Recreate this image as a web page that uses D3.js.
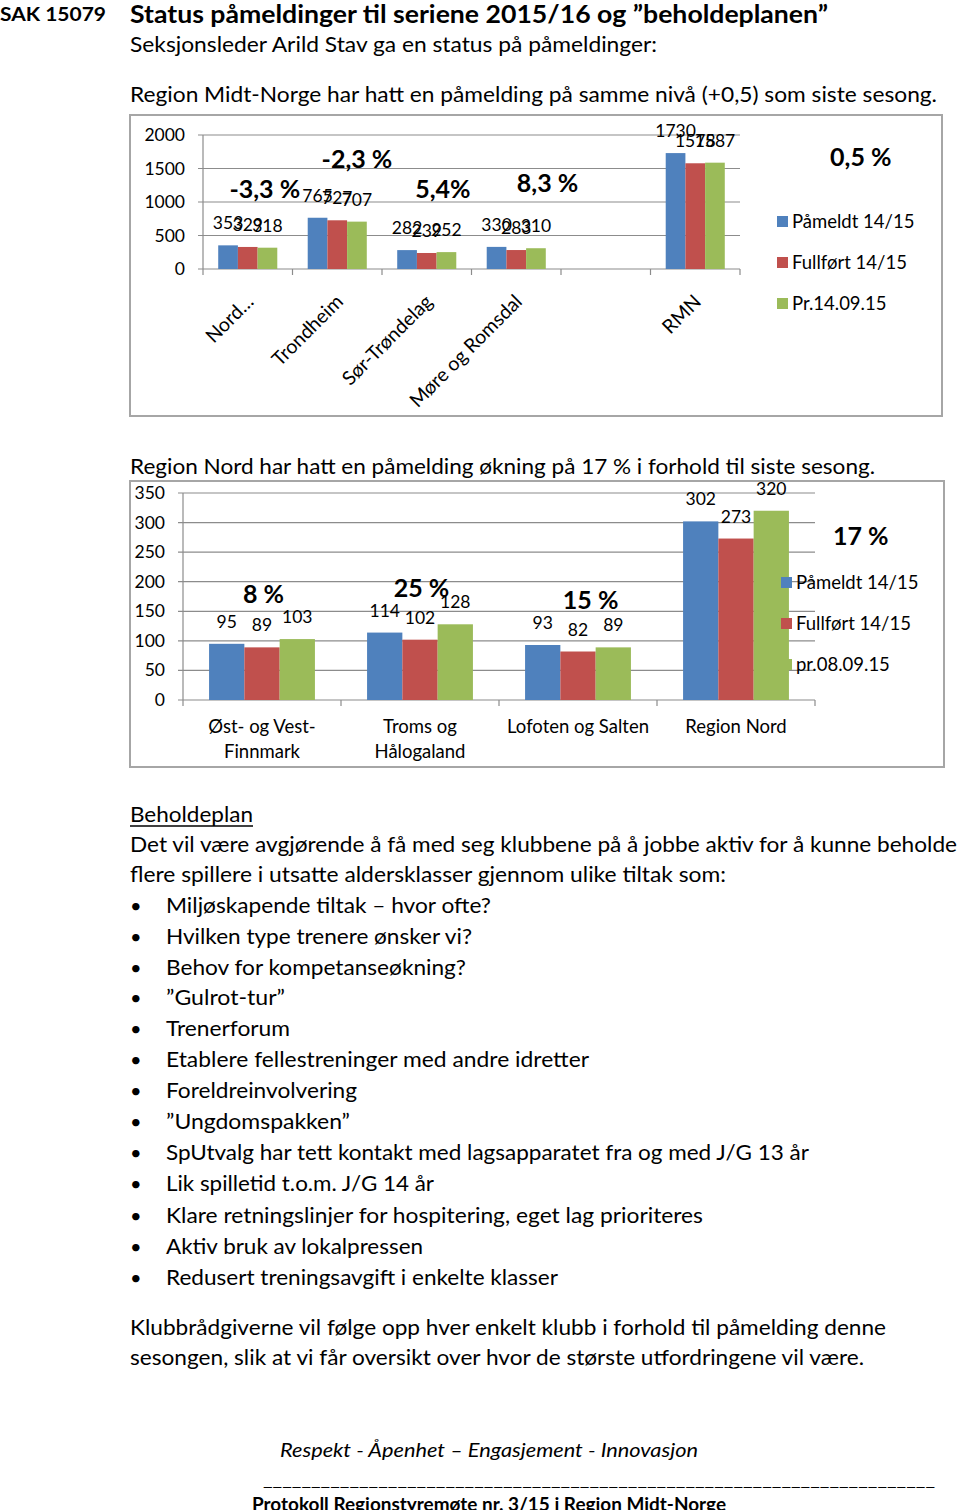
<!DOCTYPE html>
<html><head><meta charset="utf-8">
<script src="https://cdn.jsdelivr.net/npm/d3@7"></script>
<style>body{margin:0;background:#fff} svg{display:block} text{font-family:Lato,'Open Sans',sans-serif;fill:#000}</style>
</head><body>
<svg id="s" width="960" height="1510"></svg>
<script>
// ---------- data ----------
const cats1 = ["Nord…","Trondheim","Sør-Trøndelag","Møre og Romsdal","","RMN"];
const paameldt1 = [353,765,282,330,null,1730];
const fullfort1 = [329,727,239,283,null,1578];
const pr1 = [318,707,252,310,null,1587];
const series1 = ["Påmeldt 14/15","Fullført 14/15","Pr.14.09.15"];
const ticks1 = [0,500,1000,1500,2000];
const pctLabels1 = ["-3,3 %","-2,3 %","5,4%","8,3 %","0,5 %"];

const cats2 = [["Øst- og Vest-","Finnmark"],["Troms og","Hålogaland"],["Lofoten og Salten"],["Region Nord"]];
const paameldt2 = [95,114,93,302];
const fullfort2 = [89,102,82,273];
const pr2 = [103,128,89,320];
const series2 = ["Påmeldt 14/15","Fullført 14/15","pr.08.09.15"];
const ticks2 = [0,50,100,150,200,250,300,350];
const pctLabels2 = ["8 %","25 %","15 %","17 %"];

const colors = ["#4F81BD","#C0504D","#9BBB59"];

const svg = d3.select("#s");
function txt(s, x, y, opts={}) {
  const t = svg.append("text").attr("x", x).attr("y", y).text(s)
    .attr("font-size", opts.size || 21)
    .attr("font-weight", opts.bold ? 700 : 400)
    .attr("font-style", opts.italic ? "italic" : "normal");
  if (opts.right) {
    t.attr("textLength", opts.right - x).attr("lengthAdjust", "spacingAndGlyphs");
  }
  return t;
}

// ---------- header & body text ----------
txt("SAK 15079", 0, 21, {size:19, bold:true, right:106});
txt("Status påmeldinger til seriene 2015/16 og ”beholdeplanen”", 130, 23, {size:24, bold:true, right:828});
txt("Seksjonsleder Arild Stav ga en status på påmeldinger:", 130, 52, {right:657});
txt("Region Midt-Norge har hatt en påmelding på samme nivå (+0,5) som siste sesong.", 130, 102, {right:937});
txt("Region Nord har hatt en påmelding økning på 17 % i forhold til siste sesong.", 130, 474, {right:875});
txt("Beholdeplan", 130, 822, {right:253});
svg.append("line").attr("x1",130).attr("x2",253).attr("y1",826).attr("y2",826).attr("stroke","#000").attr("stroke-width",1.3);
txt("Det vil være avgjørende å få med seg klubbene på å jobbe aktiv for å kunne beholde", 130, 852, {right:957});
txt("flere spillere i utsatte aldersklasser gjennom ulike tiltak som:", 130, 882, {right:726});

const bullets = ["Miljøskapende tiltak – hvor ofte?","Hvilken type trenere ønsker vi?","Behov for kompetanseøkning?","”Gulrot-tur”","Trenerforum","Etablere fellestreninger med andre idretter","Foreldreinvolvering","”Ungdomspakken”","SpUtvalg har tett kontakt med lagsapparatet fra og med J/G 13 år","Lik spilletid t.o.m. J/G 14 år","Klare retningslinjer for hospitering, eget lag prioriteres","Aktiv bruk av lokalpressen","Redusert treningsavgift i enkelte klasser"];
const bulletRights = [491,472,466,285,290,589,357,350,809,434,703,423,558];
const bulletY = [913,944,975,1005,1036,1067,1098,1129,1160,1191,1223,1254,1285];
bullets.forEach((b,i) => {
  txt("•", 130, bulletY[i], {size:20});
  txt(b, 166, bulletY[i], {right:bulletRights[i]});
});
txt("Klubbrådgiverne vil følge opp hver enkelt klubb i forhold til påmelding denne", 130, 1335, {right:886});
txt("sesongen, slik at vi får oversikt over hvor de største utfordringene vil være.", 130, 1365, {right:864});
txt("Respekt - Åpenhet – Engasjement - Innovasjon", 280, 1457, {italic:true, size:20, right:698});
txt("_".repeat(70), 263, 1486, {size:18, right:935});
txt("Protokoll Regionstyremøte nr. 3/15 i Region Midt-Norge", 252, 1511, {bold:true, size:19, right:726});

// ---------- generic grouped bar chart ----------
function chart(cfg) {
  const g = svg.append("g");
  g.append("rect").attr("x", cfg.box[0]).attr("y", cfg.box[1]).attr("width", cfg.box[2]).attr("height", cfg.box[3])
    .attr("fill", "none").attr("stroke", "#a6a6a6").attr("stroke-width", 2);
  const n = cfg.cats.length;
  const y = d3.scaleLinear().domain([0, cfg.ticks[cfg.ticks.length-1]]).range([cfg.y0, cfg.y1]);
  const x = d3.scaleBand().domain(d3.range(n)).range([cfg.x0, cfg.x1]).paddingInner(cfg.pad).paddingOuter(cfg.pad/2);
  const xs = d3.scaleBand().domain([0,1,2]).range([0, x.bandwidth()]);
  const xi = d3.scaleLinear().domain([0, n]).range([cfg.x0, cfg.x1]);
  g.selectAll(".grid").data(cfg.ticks).join("line")
    .attr("x1", cfg.x0 - 5).attr("x2", cfg.x1).attr("y1", d => y(d)).attr("y2", d => y(d))
    .attr("stroke", "#8c8c8c").attr("stroke-width", 1.2);
  g.append("line").attr("x1", cfg.x0).attr("x2", cfg.x0).attr("y1", y(cfg.ticks[cfg.ticks.length-1])).attr("y2", cfg.y0)
    .attr("stroke", "#8c8c8c").attr("stroke-width", 1.2);
  g.selectAll(".xt").data(d3.range(n+1)).join("line")
    .attr("x1", d => xi(d)).attr("x2", d => xi(d)).attr("y1", cfg.y0).attr("y2", cfg.y0 + 6)
    .attr("stroke", "#8c8c8c").attr("stroke-width", 1.2);
  g.selectAll(".yl").data(cfg.ticks).join("text")
    .attr("x", cfg.ylabX).attr("y", d => y(d) + 6).attr("text-anchor", "end")
    .attr("font-size", 17.5).text(d => d);
  cfg.series.forEach((vals, s) => {
    vals.forEach((v, i) => {
      if (v == null) return;
      g.append("rect").attr("x", x(i) + xs(s)).attr("y", y(v)).attr("width", xs.bandwidth()).attr("height", cfg.y0 - y(v))
        .attr("fill", colors[s]);
    });
  });
  cfg.series.forEach((vals, s) => {
    vals.forEach((v, i) => {
      if (v == null) return;
      g.append("text").attr("x", x(i) + xs(s) + xs.bandwidth()/2).attr("y", y(v) - 16)
        .attr("text-anchor", "middle").attr("font-size", 17.5).text(v);
    });
  });
  cfg.pct.forEach((p, k) => {
    const pos = cfg.pctPos[k];
    g.append("text").attr("x", xi(pos[0])).attr("y", y(pos[1])).attr("text-anchor", "middle")
      .attr("font-size", 25).attr("font-weight", 700).text(p);
  });
  cfg.names.forEach((nm, s) => {
    const ly = cfg.legY[s];
    g.append("rect").attr("x", cfg.legX).attr("y", ly - 6).attr("width", 11).attr("height", 11).attr("fill", colors[s]);
    g.append("text").attr("x", cfg.legX + 15).attr("y", ly + 6).attr("font-size", 18.5).text(nm);
  });
  return {g, x, xi, y};
}

// chart 1
const c1 = chart({
  box:[130,115,812,301], x0:203, x1:740, y0:269, y1:135, pad:0.34, ylabX:185,
  cats:cats1, ticks:ticks1, series:[paameldt1, fullfort1, pr1], names:series1,
  pct:pctLabels1, pctPos:[[0.69,1060],[1.72,1507],[2.68,1060],[3.85,1149],[7.35,1537]],
  legX:777, legY:[222,263,304]
});
cats1.forEach((c, i) => {
  const cx = c1.x(i) + c1.x.bandwidth()/2;
  c1.g.append("text").attr("transform", `translate(${cx + 7},${c1.y(0) + 34}) rotate(-45)`)
    .attr("text-anchor", "end").attr("font-size", 19.5).text(c);
});

// chart 2
const c2 = chart({
  box:[130,481,814,286], x0:183, x1:815, y0:700, y1:493, pad:0.33, ylabX:165,
  cats:cats2, ticks:ticks2, series:[paameldt2, fullfort2, pr2], names:series2,
  pct:pctLabels2, pctPos:[[0.51,164],[1.51,174],[2.58,154],[4.29,262]],
  legX:781, legY:[583,624,665]
});
cats2.forEach((c, i) => {
  const cx = c2.x(i) + c2.x.bandwidth()/2;
  c.forEach((line, j) => {
    c2.g.append("text").attr("x", cx).attr("y", 733 + j*25).attr("text-anchor", "middle")
      .attr("font-size", 18.5).text(line);
  });
});
</script>
</body></html>
